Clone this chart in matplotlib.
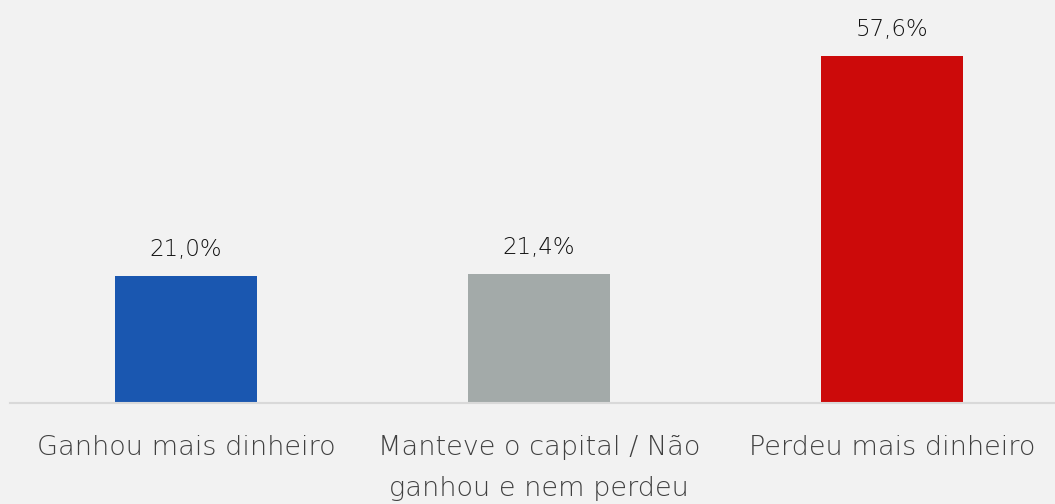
import matplotlib.pyplot as plt

# Data
categories = ['Ganhou mais dinheiro', 'Manteve o capital / Não\nganhou e nem perdeu', 'Perdeu mais dinheiro']
values = [21.0, 21.4, 57.6]
value_labels = ['21,0%', '21,4%', '57,6%']
bar_colors = ['#1A57B0', '#A3AAA9', '#CC0A0A']

bg = '#F2F2F2'

fig = plt.figure(figsize=(10.55, 5.04), dpi=100, facecolor=bg)
ax = fig.add_axes([10 / 1055, 101 / 504, 1045 / 1055, 403 / 504], facecolor=bg)

x = list(range(len(categories)))
ax.bar(x, values, width=0.40, color=bar_colors, zorder=2)

# Value labels above bars
for xi, v, lab in zip(x, values, value_labels):
    ax.annotate(lab, xy=(xi, v), xytext=(0, 11), textcoords='offset points',
                ha='center', va='bottom', fontsize=16.5, color='#111111', fontweight='light')

ax.set_xlim((10 - 186) / 353, (1055 - 186) / 353)
ax.set_ylim(0, 403 / 6.024)

ax.set_xticks(x)
ax.set_xticklabels(categories, fontsize=19.5, color='#404040', fontweight='light', linespacing=1.8)
ax.tick_params(axis='x', length=0, pad=23)
ax.set_yticks([])

for side in ['top', 'right', 'left']:
    ax.spines[side].set_visible(False)
ax.spines['bottom'].set_color('#D9D9D9')
ax.spines['bottom'].set_linewidth(1.5)

plt.savefig('out.png', dpi=100, facecolor=bg)
